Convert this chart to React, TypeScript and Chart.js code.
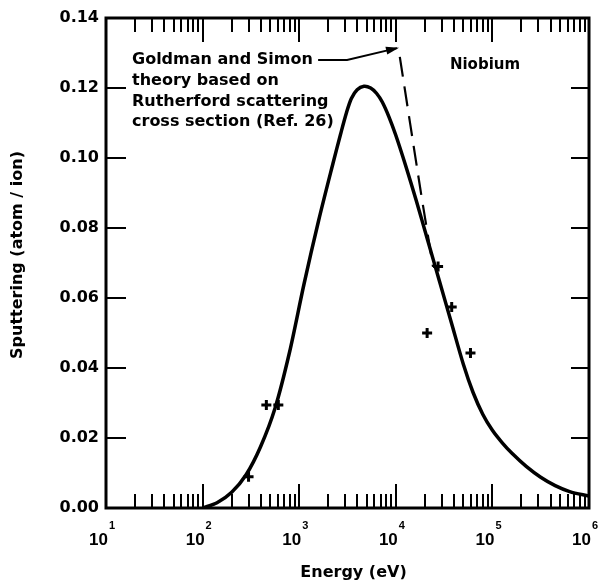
import React, { useEffect, useRef } from "react";
import { Chart, registerables } from "chart.js";

Chart.register(...registerables);

// Solid curve: sputtering yield vs energy (eV)
const curveEnergy = [100, 141, 200, 282, 398, 562, 794, 1122, 1585, 2239, 2692, 3090, 3467, 3981, 4677, 5495, 6310, 7244, 8511, 10000, 12590, 16220, 21380, 28180, 38020, 50120, 63100, 79430, 100000, 125900, 158500, 223900, 316200, 446700, 631000, 1000000];
const curveYield = [0, 0.0015, 0.0045, 0.0095, 0.0175, 0.0285, 0.0445, 0.064, 0.082, 0.0985, 0.107, 0.113, 0.117, 0.1195, 0.1205, 0.12, 0.1185, 0.116, 0.1117, 0.1065, 0.098, 0.088, 0.0765, 0.065, 0.0525, 0.041, 0.033, 0.0268, 0.0222, 0.0187, 0.0157, 0.0119, 0.0088, 0.0064, 0.0047, 0.0034];

// Dashed Goldman-Simon curve
const dashedEnergy = [11000, 18150, 24300];
const dashedYield = [0.1289, 0.0903, 0.0689];

// Measured points (crosses)
const pointEnergy = [299, 457, 608, 21100, 27400, 37900, 59300];
const pointYield = [0.0089, 0.0294, 0.0294, 0.05, 0.069, 0.0574, 0.0443];

// Arrow from annotation text to dashed curve
const arrowEnergy = [1570, 3130, 10300];
const arrowYield = [0.128, 0.128, 0.1314];

const yTicks = [0, 0.02, 0.04, 0.06, 0.08, 0.1, 0.12, 0.14];
const xDecades = [1, 2, 3, 4, 5, 6];

const annotationLines = ["Goldman and Simon", "theory based on", "Rutherford scattering", "cross section (Ref. 26)"];
const materialLabel = "Niobium";
const xTitle = "Energy (eV)";
const yTitle = "Sputtering (atom / ion)";

const FONT = '"DejaVu Sans", sans-serif';

const decorPlugin = {
  id: "decor",
  afterDatasetsDraw(chart: any) {
    const ctx = chart.ctx;
    const ca = chart.chartArea;
    const xs = chart.scales.x;
    const ys = chart.scales.y;
    ctx.save();
    ctx.strokeStyle = "#000";
    ctx.fillStyle = "#000";

    // frame
    ctx.lineWidth = 3;
    ctx.strokeRect(ca.left, ca.top, ca.right - ca.left, ca.bottom - ca.top);

    // x ticks (inward, top and bottom)
    ctx.lineWidth = 2;
    for (let d = 1; d <= 5; d++) {
      for (let m = 1; m <= 9; m++) {
        const px = Math.round(xs.getPixelForValue(m * Math.pow(10, d)));
        const len = m === 1 ? 24 : 14;
        ctx.beginPath();
        ctx.moveTo(px, ca.bottom);
        ctx.lineTo(px, ca.bottom - len);
        ctx.moveTo(px, ca.top);
        ctx.lineTo(px, ca.top + len);
        ctx.stroke();
      }
    }
    // y ticks (inward, left and right)
    for (const v of yTicks) {
      if (v === 0 || v === 0.14) continue;
      const py = Math.round(ys.getPixelForValue(v));
      ctx.beginPath();
      ctx.moveTo(ca.left, py);
      ctx.lineTo(ca.left + 20, py);
      ctx.moveTo(ca.right, py);
      ctx.lineTo(ca.right - 18, py);
      ctx.stroke();
    }

    // arrowhead
    const n = arrowEnergy.length;
    const x1 = xs.getPixelForValue(arrowEnergy[n - 2]);
    const y1 = ys.getPixelForValue(arrowYield[n - 2]);
    const x2 = xs.getPixelForValue(arrowEnergy[n - 1]);
    const y2 = ys.getPixelForValue(arrowYield[n - 1]);
    const ang = Math.atan2(y2 - y1, x2 - x1);
    ctx.beginPath();
    ctx.moveTo(x2 + 2 * Math.cos(ang), y2 + 2 * Math.sin(ang));
    ctx.lineTo(x2 - 11 * Math.cos(ang) - 4 * Math.sin(ang), y2 - 11 * Math.sin(ang) + 4 * Math.cos(ang));
    ctx.lineTo(x2 - 11 * Math.cos(ang) + 4 * Math.sin(ang), y2 - 11 * Math.sin(ang) - 4 * Math.cos(ang));
    ctx.closePath();
    ctx.fill();

    // annotation text
    ctx.font = `bold 16px ${FONT}`;
    ctx.textAlign = "left";
    ctx.textBaseline = "middle";
    const lineY = [42, 63, 84, 104];
    annotationLines.forEach((t, i) => ctx.fillText(t, ca.left + 26, ca.top + lineY[i]));
    ctx.font = `bold 15px ${FONT}`;
    ctx.textAlign = "center";
    ctx.fillText(materialLabel, ca.left + 379, ca.top + 47);

    // x tick labels 10^n
    for (const d of xDecades) {
      const px = xs.getPixelForValue(Math.pow(10, d));
      ctx.textBaseline = "alphabetic";
      ctx.font = 'bold 17px "Liberation Sans", sans-serif';
      ctx.textAlign = "right";
      ctx.fillText("10", px + 2, ca.bottom + 37);
      ctx.font = 'bold 11px "Liberation Sans", sans-serif';
      ctx.textAlign = "left";
      ctx.fillText(String(d), px + 3, ca.bottom + 21);
    }

    // axis titles
    ctx.font = `bold 16px ${FONT}`;
    ctx.textAlign = "center";
    ctx.textBaseline = "middle";
    ctx.fillText(xTitle, (ca.left + ca.right) / 2 + 6, ca.bottom + 65);
    ctx.save();
    ctx.translate(18, (ca.top + ca.bottom) / 2 - 8);
    ctx.rotate(-Math.PI / 2);
    ctx.fillText(yTitle, 0, 0);
    ctx.restore();

    ctx.restore();
  },
};

export default function App() {
  const ref = useRef<HTMLCanvasElement>(null);
  useEffect(() => {
    if (!ref.current) return;
    const chart = new Chart(ref.current, {
      type: "line",
      data: {
        datasets: [
          {
            label: "theory",
            data: curveEnergy.map((x, i) => ({ x, y: curveYield[i] })),
            borderColor: "#000",
            borderWidth: 3.5,
            pointRadius: 0,
            tension: 0.3,
            fill: false,
          },
          {
            label: "Goldman and Simon",
            data: dashedEnergy.map((x, i) => ({ x, y: dashedYield[i] })),
            borderColor: "#000",
            borderWidth: 2.2,
            borderDash: [20, 10],
            pointRadius: 0,
            tension: 0.2,
            fill: false,
          },
          {
            label: "data",
            data: pointEnergy.map((x, i) => ({ x, y: pointYield[i] })),
            showLine: false,
            pointStyle: "cross",
            pointRadius: 5,
            borderWidth: 3,
            borderColor: "#000",
            backgroundColor: "#000",
          },
          {
            label: "arrow",
            data: arrowEnergy.map((x, i) => ({ x, y: arrowYield[i] })),
            borderColor: "#000",
            borderWidth: 2,
            pointRadius: 0,
            tension: 0,
            fill: false,
          },
        ],
      },
      options: {
        responsive: false,
        animation: false,
        devicePixelRatio: 1,
        layout: { padding: { left: 0, right: 10, top: 18, bottom: 0 } },
        plugins: { legend: { display: false }, tooltip: { enabled: false } },
        scales: {
          x: {
            type: "logarithmic",
            min: 10,
            max: 1000000,
            grid: { display: false, drawTicks: false },
            border: { display: false },
            ticks: { display: false },
            afterFit: (s: any) => {
              s.height = 75;
            },
          },
          y: {
            type: "linear",
            min: 0,
            max: 0.14,
            grid: { display: false, drawTicks: false },
            border: { display: false },
            afterBuildTicks: (s: any) => {
              s.ticks = yTicks.map((v) => ({ value: v }));
            },
            ticks: {
              color: "#000",
              padding: 7,
              font: { family: FONT, size: 16, weight: "bold" },
              callback: (v: any) => Number(v).toFixed(2),
            },
            afterFit: (s: any) => {
              s.width = 106;
            },
          },
        },
      },
      plugins: [decorPlugin],
    });
    return () => chart.destroy();
  }, []);
  return (
    <div style={{ position: "fixed", left: 0, top: 0, width: 599, height: 583, background: "#fff" }}>
      <canvas ref={ref} width={599} height={583} />
    </div>
  );
}
